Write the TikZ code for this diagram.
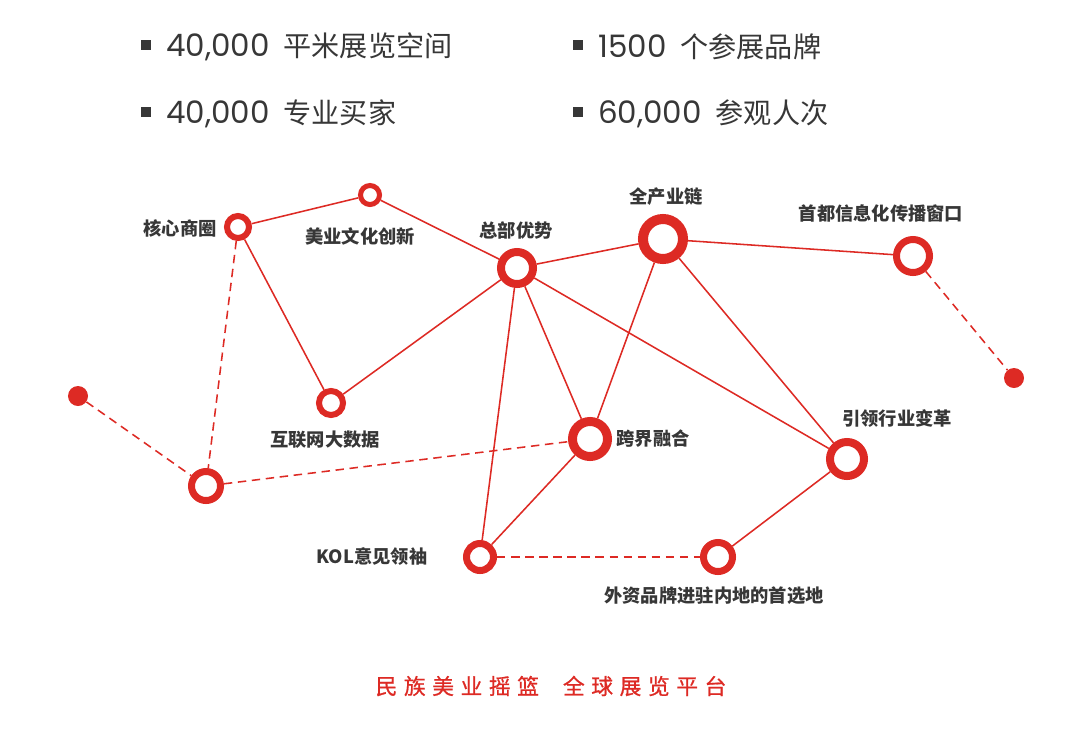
\documentclass[tikz,border=0pt]{standalone}
\usepackage{fontspec}
\setmainfont{Noto Sans CJK SC}
\newfontfamily\numfont{Poppins}
\usepackage{xcolor}
\usepackage{tikz}
\usetikzlibrary{positioning}
\definecolor{brandred}{RGB}{221,42,36}
\definecolor{labelgray}{RGB}{55,55,55}

\tikzset{
  ring/.style 2 args={circle, draw=brandred, fill=white, inner sep=0pt,
    minimum size=#1*0.7114pt, line width=#2*0.7114pt},
  reddot/.style={circle, fill=brandred, inner sep=0pt, minimum size=20*0.7114pt},
  tag/.style={text=labelgray, inner sep=0pt, font=\fontsize{13}{15}\selectfont\bfseries},
  link/.style={brandred, line width=1.1pt},
  dlink/.style={link, dash pattern=on 6pt off 4pt},
  fact/.style={anchor=west, inner sep=0pt, text=labelgray, font=\fontsize{20}{24}\selectfont},
  bullet/.style={fill=labelgray, inner sep=0pt, minimum size=7pt}
}
\newcommand\keynum[1]{{\numfont\fontsize{22}{24}\selectfont #1}\hspace{10pt}}

\begin{document}
\begin{tikzpicture}[x=0.025cm, y=-0.025cm]
  \useasboundingbox (0,0) rectangle (1080,737);

  % key figures
  \node[bullet] (b1) at (146,45) {};
  \node[fact] (f1) at (166,47) {\keynum{40,000}平米展览空间};
  \node[bullet] (b2) at (578,45) {};
  \node[fact] (f2) at (598,47) {\keynum{1500}个参展品牌};
  \node[bullet] (b3) at (146,112) {};
  \node[fact] (f3) at (166,114) {\keynum{40,000}专业买家};
  \node[bullet] (b4) at (578,112) {};
  \node[fact] (f4) at (598,114) {\keynum{60,000}参观人次};

  % network nodes
  \node[ring={22}{6}] (core) at (238,227) {};
  \node[ring={19}{5}] (culture) at (370,195) {};
  \node[ring={32}{8}] (hq) at (517,268) {};
  \node[ring={40}{10}] (chain) at (663,239) {};
  \node[ring={33}{7}] (window) at (913,256) {};
  \node[ring={24}{6}] (data) at (331,403) {};
  \node[ring={35}{9}] (cross) at (590,439) {};
  \node[ring={34}{8}] (lead) at (847,459) {};
  \node[ring={29}{7}] (hub) at (206,486) {};
  \node[ring={27}{7}] (kol) at (480,557) {};
  \node[ring={29}{7}] (foreign) at (718,557) {};
  \node[reddot] (west) at (78,396) {};
  \node[reddot] (east) at (1014,378) {};

  % solid links
  \draw[link] (core) -- (culture);
  \draw[link] (culture) -- (hq);
  \draw[link] (core) -- (data);
  \draw[link] (data) -- (hq);
  \draw[link] (hq) -- (chain);
  \draw[link] (chain) -- (window);
  \draw[link] (hq) -- (cross);
  \draw[link] (hq) -- (kol);
  \draw[link] (hq) -- (lead);
  \draw[link] (chain) -- (cross);
  \draw[link] (chain) -- (lead);
  \draw[link] (cross) -- (kol);
  \draw[link] (lead) -- (foreign);

  % dashed links
  \draw[dlink] (core) -- (hub);
  \draw[dlink] (west) -- (hub);
  \draw[dlink] (hub) -- (cross);
  \draw[dlink] (kol) -- (foreign);
  \draw[dlink] (window) -- (east);

  % labels
  \node[tag] (tcore) at (180,228) {核心商圈};
  \node[tag] (tculture) at (360,236) {美业文化创新};
  \node[tag] (thq) at (516,230) {总部优势};
  \node[tag] (tchain) at (666,197) {全产业链};
  \node[tag] (twindow) at (881,213) {首都信息化传播窗口};
  \node[tag] (tdata) at (325,440) {互联网大数据};
  \node[tag] (tcross) at (653,439) {跨界融合};
  \node[tag] (tlead) at (897,419) {引领行业变革};
  \node[tag] (tkol) at (372,557) {KOL意见领袖};
  \node[tag] (tforeign) at (714,596) {外资品牌进驻内地的首选地};

  % slogan
  \node[text=brandred, inner sep=0pt,
    font=\fontsize{15.5}{18}\selectfont\addfontfeature{LetterSpace=30,FakeBold=0.8}]
    (slogan) at (551,686) {民族美业摇篮\hspace{17pt}全球展览平台};
\end{tikzpicture}
\end{document}
